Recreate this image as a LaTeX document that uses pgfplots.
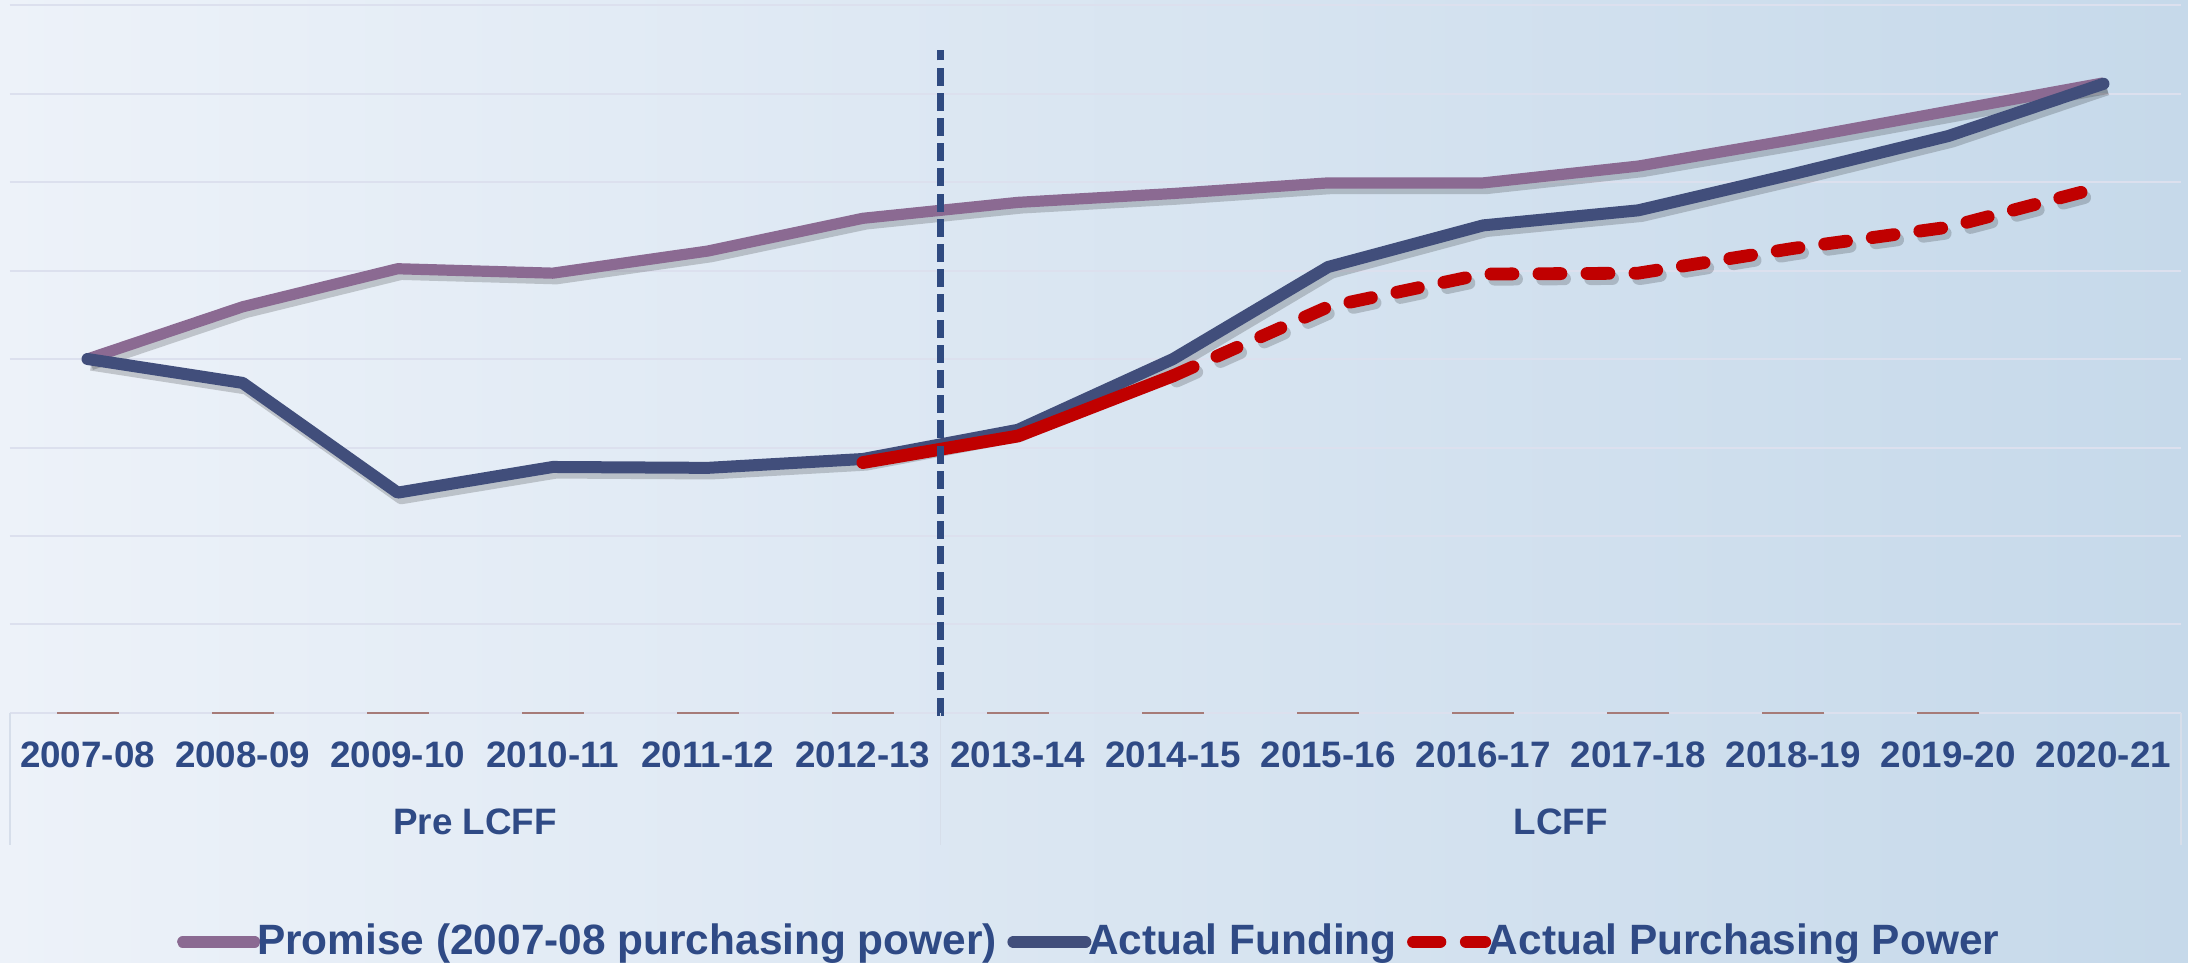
\documentclass[border=0pt]{standalone}
\usepackage{fontspec}
\setmainfont{Liberation Sans}
\usepackage{pgfplots}
\pgfplotsset{compat=1.18}
\definecolor{promc}{HTML}{8B6A92}
\definecolor{fundc}{HTML}{414E7B}
\definecolor{ppc}{HTML}{C00000}
\definecolor{textc}{HTML}{2F4A85}
\definecolor{gridc}{HTML}{DCE0EE}
\definecolor{sepc}{HTML}{D6DEEA}
\definecolor{tickc}{HTML}{A67B78}
\definecolor{bgL}{HTML}{EDF2F9}
\definecolor{bgM}{HTML}{E4ECF5}
\definecolor{bgR}{HTML}{C6D9EA}
\definecolor{vlinec}{HTML}{2F4A80}
\begin{document}
\begin{tikzpicture}
\shade[left color=bgL, middle color=bgM, right color=bgR] (0pt,0pt) rectangle (547pt,240.75pt);
\begin{axis}[
  at={(2.5pt,62.5pt)}, anchor=south west,
  scale only axis, width=542.75pt, height=177pt,
  xmin=-0.5, xmax=13.5, ymin=0, ymax=8,
  axis line style={draw=none},
  ytick={0,...,8}, yticklabels={},
  ymajorgrids, major grid style={gridc, line width=0.5pt},
  ytick style={draw=none}, xtick style={draw=none},
  xtick={0,...,13},
  xticklabels={2007-08,2008-09,2009-10,2010-11,2011-12,2012-13,2013-14,2014-15,2015-16,2016-17,2017-18,2018-19,2019-20,2020-21},
  xticklabel style={font=\fontsize{9.2}{11}\selectfont\bfseries, text=textc, anchor=center, yshift=-10.5pt},
  clip=false,
  legend columns=3,
  legend cell align=left,
  legend style={at={(0.497,-0.3234)}, anchor=center, draw=none, fill=none,
    font=\fontsize{10.6}{12}\selectfont\bfseries, text=textc,
    inner sep=0pt, outer sep=0pt,
    nodes={inner sep=0.4pt},
    /tikz/every odd column/.append style={column sep=-1.2pt},
    /tikz/every even column/.append style={column sep=2.2pt}},
  legend image code/.code={\draw[#1, line cap=round] (1.5pt,0pt) -- (19.5pt,0pt);},
]
% tick dashes
\addplot[tickc, line width=0.4pt, only marks, mark=-, mark size=7.75pt, forget plot]
  coordinates {(0,0) (1,0) (2,0) (3,0) (4,0) (5,0) (6,0) (7,0) (8,0) (9,0) (10,0) (11,0) (12,0)};
% shadows
\addplot[black, opacity=0.18, line width=3pt, shift={(0.9pt,-1.3pt)}, forget plot, line join=round]
  coordinates {(0,4.00) (1,4.59) (2,5.02) (3,4.97) (4,5.22) (5,5.59) (6,5.77) (7,5.87) (8,5.99) (9,5.99) (10,6.18) (11,6.48) (12,6.80) (13,7.12)};
\addplot[black, opacity=0.18, line width=3.2pt, shift={(0.9pt,-1.3pt)}, forget plot, line join=round]
  coordinates {(0,4.00) (1,3.73) (2,2.49) (3,2.78) (4,2.77) (5,2.87) (6,3.20) (7,4.00) (8,5.04) (9,5.51) (10,5.68) (11,6.09) (12,6.52) (13,7.11)};
% Promise
\addplot[promc, line width=2.8pt, line join=round]
  coordinates {(0,4.00) (1,4.59) (2,5.02) (3,4.97) (4,5.22) (5,5.59) (6,5.77) (7,5.87) (8,5.99) (9,5.99) (10,6.18) (11,6.48) (12,6.80) (13,7.12)};
\addlegendentry{Promise (2007-08 purchasing power)}
% Actual funding
\addplot[fundc, line width=3pt, line join=round, line cap=round]
  coordinates {(0,4.00) (1,3.73) (2,2.49) (3,2.78) (4,2.77) (5,2.87) (6,3.20) (7,4.00) (8,5.04) (9,5.51) (10,5.68) (11,6.09) (12,6.52) (13,7.11)};
\addlegendentry{Actual Funding}
% Actual purchasing power
\addplot[black, opacity=0.18, line width=3.2pt, shift={(0.9pt,-1.3pt)}, forget plot, line join=round, line cap=round, dash pattern=on 5.5pt off 6.5pt]
  coordinates {(7,3.81) (8,4.59) (9,4.96) (10,4.97) (11,5.25) (12,5.49) (13,5.95)};
\addplot[ppc, line width=3.2pt, line join=round, line cap=round, forget plot]
  coordinates {(5,2.83) (6,3.13) (7,3.81)};
\addplot[ppc, line width=3.2pt, line join=round, line cap=round, dash pattern=on 5.5pt off 6.5pt,
  legend image code/.code={\draw[ppc, line width=3.2pt, line cap=round, dash pattern=on 6.6pt off 6.6pt] (1.6pt,0pt) -- (19.4pt,0pt);}]
  coordinates {(7,3.81) (8,4.59) (9,4.96) (10,4.97) (11,5.25) (12,5.49) (13,5.95)};
\addlegendentry{Actual Purchasing Power}
% vertical divider
\addplot[vlinec, line width=1.75pt, dash pattern=on 4.5pt off 1.8pt, forget plot]
  coordinates {(5.5,-0.03) (5.5,7.49)};
% separators and group labels
\draw[sepc, line width=0.4pt] (axis cs:-0.5,0) -- ++(0pt,-33pt);
\draw[sepc, line width=0.4pt] (axis cs:5.5,0) -- ++(0pt,-33pt);
\draw[sepc, line width=0.4pt] (axis cs:13.5,0) -- ++(0pt,-33pt);
\node[font=\fontsize{9.2}{11}\selectfont\bfseries, text=textc] at ([yshift=-27.25pt]axis cs:2.5,0) {Pre LCFF};
\node[font=\fontsize{9.2}{11}\selectfont\bfseries, text=textc] at ([yshift=-27.25pt]axis cs:9.5,0) {LCFF};
\end{axis}
\pgfresetboundingbox
\path (0pt,0pt) rectangle (547pt,240.75pt);
\end{tikzpicture}
\end{document}
